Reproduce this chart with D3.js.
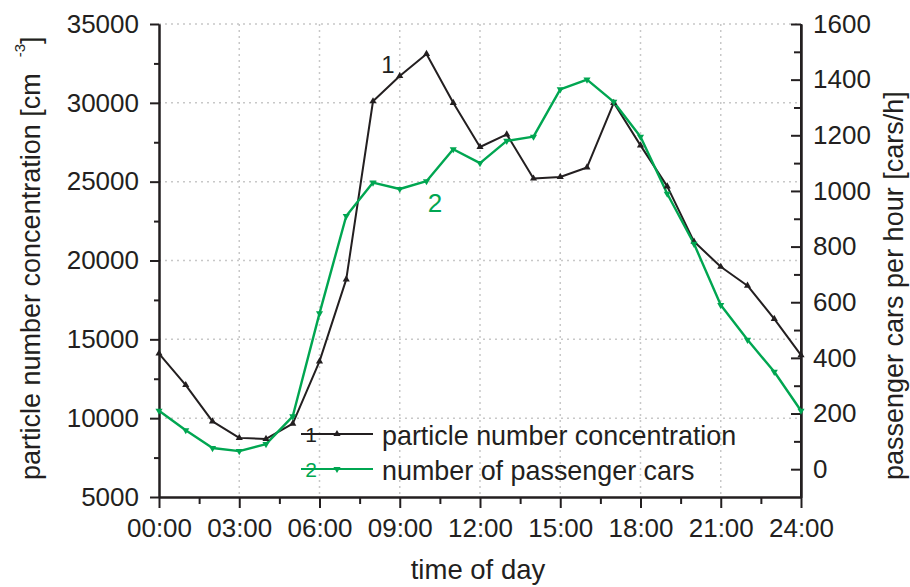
<!DOCTYPE html>
<html><head><meta charset="utf-8">
<script src="https://cdn.jsdelivr.net/npm/d3@7"></script>
<style>
body{margin:0;background:#fff;}
svg text{font-family:"Liberation Sans",Arial,Helvetica,sans-serif;fill:#231f20;}
</style></head>
<body><svg id="c" width="910" height="587"></svg>
<script>
const hours = [0,1,2,3,4,5,6,7,8,9,10,11,12,13,14,15,16,17,18,19,20,21,22,23,24];
const particles = [14100,12100,9800,8750,8680,9650,13600,18800,30100,31700,33100,30000,27200,28000,25200,25300,25900,30000,27300,24700,21200,19600,18400,16300,14000];
const cars = [210,140,76,65,90,190,560,910,1030,1007,1035,1150,1100,1180,1195,1365,1400,1320,1195,990,810,590,465,350,210];
const xTicks = [0,3,6,9,12,15,18,21,24];
const leftTicks = [5000,10000,15000,20000,25000,30000,35000];
const rightTicks = [0,200,400,600,800,1000,1200,1400,1600];
const seriesNames = ["particle number concentration","number of passenger cars"];
const xTitle = "time of day";
const rightTitle = "passenger cars per hour [cars/h]";

const ink = "#231f20", green = "#00a651", gridC = "#c8c8c8";
const svg = d3.select("#c");
const x = d3.scaleLinear().domain([0,24]).range([159,801]);
const yL = d3.scaleLinear().domain([5000,35000]).range([497,24]);
const yR = d3.scaleLinear().domain([-100,1600]).range([497,24]);

// grid
const g = svg.append("g");
g.selectAll(".hg").data(leftTicks.filter(v=>v>5000)).join("line")
  .attr("x1",x(0)).attr("x2",x(24)).attr("y1",d=>yL(d)).attr("y2",d=>yL(d))
  .attr("stroke",gridC).attr("stroke-width",1.5).attr("stroke-dasharray","2,4");
g.selectAll(".vg").data(xTicks.filter(v=>v>0&&v<24)).join("line")
  .attr("x1",d=>x(d)).attr("x2",d=>x(d)).attr("y1",yL(35000)).attr("y2",yL(5000))
  .attr("stroke",gridC).attr("stroke-width",1.5).attr("stroke-dasharray","2,4");

function styleAxis(sel, fs){
  sel.selectAll("path.domain").attr("stroke",ink).attr("stroke-width",2);
  sel.selectAll(".tick line").attr("stroke",ink).attr("stroke-width",2);
  sel.selectAll(".tick text").attr("font-size",fs).attr("fill",ink)
     .attr("font-family","'Liberation Sans',Arial,sans-serif");
}
const pad2 = h => (h<10?"0":"")+h+":00";
// bottom axis
const bx = svg.append("g").attr("transform",`translate(0,${yL(5000)})`)
  .call(d3.axisBottom(x).tickValues(xTicks).tickFormat(pad2).tickSizeInner(11).tickSizeOuter(0).tickPadding(11));
styleAxis(bx,26);
const bxm = svg.append("g").attr("transform",`translate(0,${yL(5000)})`)
  .call(d3.axisBottom(x).tickValues(d3.range(1.5,24,3)).tickFormat("").tickSizeInner(7).tickSizeOuter(0));
styleAxis(bxm,26);
// left axis
const ly = svg.append("g").attr("transform",`translate(${x(0)},0)`)
  .call(d3.axisLeft(yL).tickValues(leftTicks).tickFormat(d3.format("d")).tickSizeInner(9).tickSizeOuter(0).tickPadding(11));
styleAxis(ly,26);
const lym = svg.append("g").attr("transform",`translate(${x(0)},0)`)
  .call(d3.axisLeft(yL).tickValues(d3.range(7500,35000,5000)).tickFormat("").tickSizeInner(5).tickSizeOuter(0));
styleAxis(lym,26);
// right axis
const ry = svg.append("g").attr("transform",`translate(${x(24)},0)`)
  .call(d3.axisRight(yR).tickValues(rightTicks).tickFormat(d3.format("d")).tickSizeInner(-10).tickSizeOuter(0).tickPadding(12));
styleAxis(ry,26);
const rym = svg.append("g").attr("transform",`translate(${x(24)},0)`)
  .call(d3.axisRight(yR).tickValues(d3.range(100,1600,200)).tickFormat("").tickSizeInner(-7).tickSizeOuter(0));
styleAxis(rym,26);
svg.append("line").attr("x1",x(24)).attr("x2",x(24)).attr("y1",yR(1600)).attr("y2",yR(-100)).attr("stroke",ink).attr("stroke-width",2);

// lines
const lineL = d3.line().x((d,i)=>x(hours[i])).y(d=>yL(d));
const lineR = d3.line().x((d,i)=>x(hours[i])).y(d=>yR(d));
svg.append("path").datum(particles).attr("d",lineL).attr("fill","none").attr("stroke",ink).attr("stroke-width",2).attr("stroke-linejoin","round");
svg.append("path").datum(cars).attr("d",lineR).attr("fill","none").attr("stroke",green).attr("stroke-width",2.4).attr("stroke-linejoin","round");
const tri = d3.symbol().type(d3.symbolTriangle).size(22);
svg.selectAll(".mk1").data(particles).join("path").attr("d",tri)
  .attr("transform",(d,i)=>`translate(${x(hours[i])},${yL(d)})`).attr("fill",ink);
svg.selectAll(".mk2").data(cars).join("path").attr("d",tri)
  .attr("transform",(d,i)=>`translate(${x(hours[i])},${yR(d)}) rotate(180)`).attr("fill",green);

// series labels
svg.append("text").attr("x",388).attr("y",73).attr("text-anchor","middle").attr("font-size",24).text("1");
svg.append("text").attr("x",435).attr("y",212).attr("text-anchor","middle").attr("font-size",26).style("fill",green).text("2");

// legend
const leg = [{c:ink,n:"1",y:434,up:true},{c:green,n:"2",y:469,up:false}];
leg.forEach((L,i)=>{
  svg.append("line").attr("x1",301).attr("x2",373).attr("y1",L.y).attr("y2",L.y).attr("stroke",L.c).attr("stroke-width",2);
  svg.append("text").attr("x",311).attr("y",L.y+8).attr("text-anchor","middle").attr("font-size",21).style("fill",L.c).text(L.n);
  svg.append("path").attr("d",tri).attr("transform",`translate(337,${L.y})${L.up?"":" rotate(180)"}`).attr("fill",L.c);
  svg.append("text").attr("x",382).attr("y",L.y+11).attr("font-size",26.9).text(seriesNames[i]);
});

// axis titles
svg.append("text").attr("x",478).attr("y",579).attr("text-anchor","middle").attr("font-size",27.5).text(xTitle);
const lt = svg.append("text").attr("transform","translate(40,480) rotate(-90)").attr("font-size",27);
lt.append("tspan").text("particle number concentration [cm");
lt.append("tspan").attr("dx",16).attr("dy",-15).attr("font-size",15).text("-3");
lt.append("tspan").attr("dy",15).text("]");
svg.append("text").attr("transform","translate(903,480) rotate(-90)").attr("font-size",27).text(rightTitle);
</script></body></html>
